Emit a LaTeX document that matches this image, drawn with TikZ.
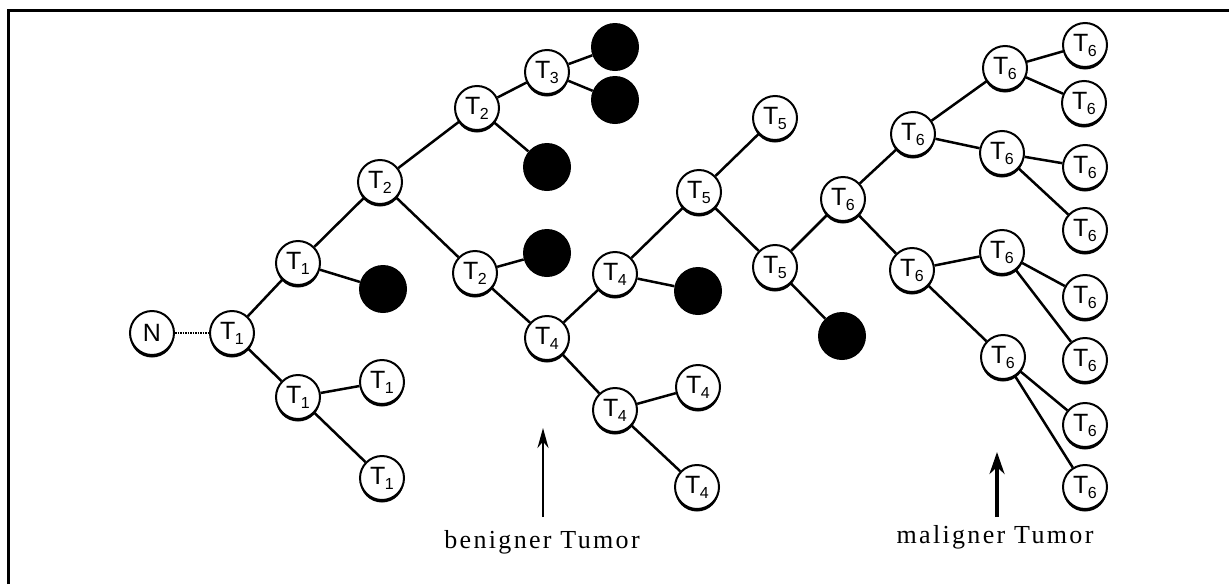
\documentclass[tikz,border=0pt]{standalone}
\usepackage{fontspec}
\setmainfont{Liberation Serif}
\newfontfamily\nodefont{Liberation Sans}
\newfontfamily\lblfont[LetterSpace=9]{Liberation Serif}
\usetikzlibrary{shadows,arrows.meta}
\newcommand{\tsub}[1]{T\kern-0.5pt\raisebox{-5pt}{\fontsize{16}{16}\selectfont #1}}
\tikzset{
  cell/.style={circle, draw, line width=2pt, fill=white, minimum size=44pt, inner sep=0pt,
    font=\nodefont\fontsize{25}{25}\selectfont,
    drop shadow={shadow xshift=0pt, shadow yshift=-2.5pt, opacity=1, fill=black}},
  dead/.style={circle, fill=black, minimum size=48pt, inner sep=0pt},
  link/.style={line width=2.5pt},
  frame/.style={line width=3pt},
  lbl/.style={anchor=base, inner sep=0pt, font=\lblfont\fontsize{26}{30}\selectfont}
}
\begin{document}
\begin{tikzpicture}[x=1pt, y=-1pt]
\useasboundingbox (0,0) rectangle (1229,584);
% frame
\coordinate (fb) at (8,584);
\coordinate (fc) at (8,10);
\coordinate (fr) at (1229,10);
\draw[frame] (fb) -- (fc) -- (fr);
% nodes
\node[cell] (n) at (152,333) {N};
\node[cell] (a) at (232,333) {\tsub{1}};
\node[cell] (a1) at (298,263) {\tsub{1}};
\node[cell] (a2) at (298,397) {\tsub{1}};
\node[dead] (d1) at (383,289) {};
\node[cell] (f1) at (382,382) {\tsub{1}};
\node[cell] (f2) at (382,478) {\tsub{1}};
\node[cell] (b) at (380,182) {\tsub{2}};
\node[cell] (b1) at (477,108) {\tsub{2}};
\node[cell] (b2) at (475,273) {\tsub{2}};
\node[cell] (c) at (547,72) {\tsub{3}};
\node[dead] (d2) at (615,47) {};
\node[dead] (d3) at (615,100) {};
\node[dead] (d4) at (547,167) {};
\node[dead] (d5) at (547,253) {};
\node[cell] (e) at (547,338) {\tsub{4}};
\node[cell] (e1) at (615,274) {\tsub{4}};
\node[cell] (e2) at (615,410) {\tsub{4}};
\node[dead] (d6) at (698,291) {};
\node[cell] (e3) at (698,387) {\tsub{4}};
\node[cell] (e4) at (697,487) {\tsub{4}};
\node[cell] (g) at (699,192) {\tsub{5}};
\node[cell] (g1) at (775,118) {\tsub{5}};
\node[cell] (g2) at (775,267) {\tsub{5}};
\node[dead] (d7) at (842,336) {};
\node[cell] (h) at (843,199) {\tsub{6}};
\node[cell] (h1) at (913,134) {\tsub{6}};
\node[cell] (h2) at (912,270) {\tsub{6}};
\node[cell] (h11) at (1005,68) {\tsub{6}};
\node[cell] (h12) at (1002,153) {\tsub{6}};
\node[cell] (h21) at (1002,252) {\tsub{6}};
\node[cell] (h22) at (1003,357) {\tsub{6}};
\node[cell] (l1) at (1085,45) {\tsub{6}};
\node[cell] (l2) at (1084,103) {\tsub{6}};
\node[cell] (l3) at (1085,167) {\tsub{6}};
\node[cell] (l4) at (1085,230) {\tsub{6}};
\node[cell] (l5) at (1085,297) {\tsub{6}};
\node[cell] (l6) at (1085,360) {\tsub{6}};
\node[cell] (l7) at (1085,425) {\tsub{6}};
\node[cell] (l8) at (1085,487) {\tsub{6}};
% connectors
\draw[line width=1.5pt, densely dotted] (n) -- (a);
\draw[link] (a) -- (a1);
\draw[link] (a) -- (a2);
\draw[link] (a1) -- (b);
\draw[link] (a1) -- (d1);
\draw[link] (a2) -- (f1);
\draw[link] (a2) -- (f2);
\draw[link] (b) -- (b1);
\draw[link] (b) -- (b2);
\draw[link] (b1) -- (c);
\draw[link] (b1) -- (d4);
\draw[link] (c) -- (d2);
\draw[link] (c) -- (d3);
\draw[link] (b2) -- (d5);
\draw[link] (b2) -- (e);
\draw[link] (e) -- (e1);
\draw[link] (e) -- (e2);
\draw[link] (e1) -- (g);
\draw[link] (e1) -- (d6);
\draw[link] (e2) -- (e3);
\draw[link] (e2) -- (e4);
\draw[link] (g) -- (g1);
\draw[link] (g) -- (g2);
\draw[link] (g2) -- (d7);
\draw[link] (g2) -- (h);
\draw[link] (h) -- (h1);
\draw[link] (h) -- (h2);
\draw[link] (h1) -- (h11);
\draw[link] (h1) -- (h12);
\draw[link] (h11) -- (l1);
\draw[link] (h11) -- (l2);
\draw[link] (h12) -- (l3);
\draw[link] (h12) -- (l4);
\draw[link] (h2) -- (h21);
\draw[link] (h2) -- (h22);
\draw[link] (h21) -- (l5);
\draw[link] (h21) -- (l6);
\draw[link] (h22) -- (l7);
\draw[link] (h22) -- (l8);
% labels and arrows
\node[lbl] (ben) at (542,548) {benigner Tumor};
\node[lbl] (mal) at (995,543) {maligner Tumor};
\coordinate (bs) at (543,517);
\coordinate (bt) at (543,428);
\coordinate (ms) at (997,517);
\coordinate (mt) at (997,452);
\draw[line width=2.5pt, -{Stealth[length=20pt,width=11pt]}] (bs) -- (bt);
\draw[line width=4pt, -{Stealth[length=22pt,width=15pt]}] (ms) -- (mt);
\end{tikzpicture}
\end{document}
